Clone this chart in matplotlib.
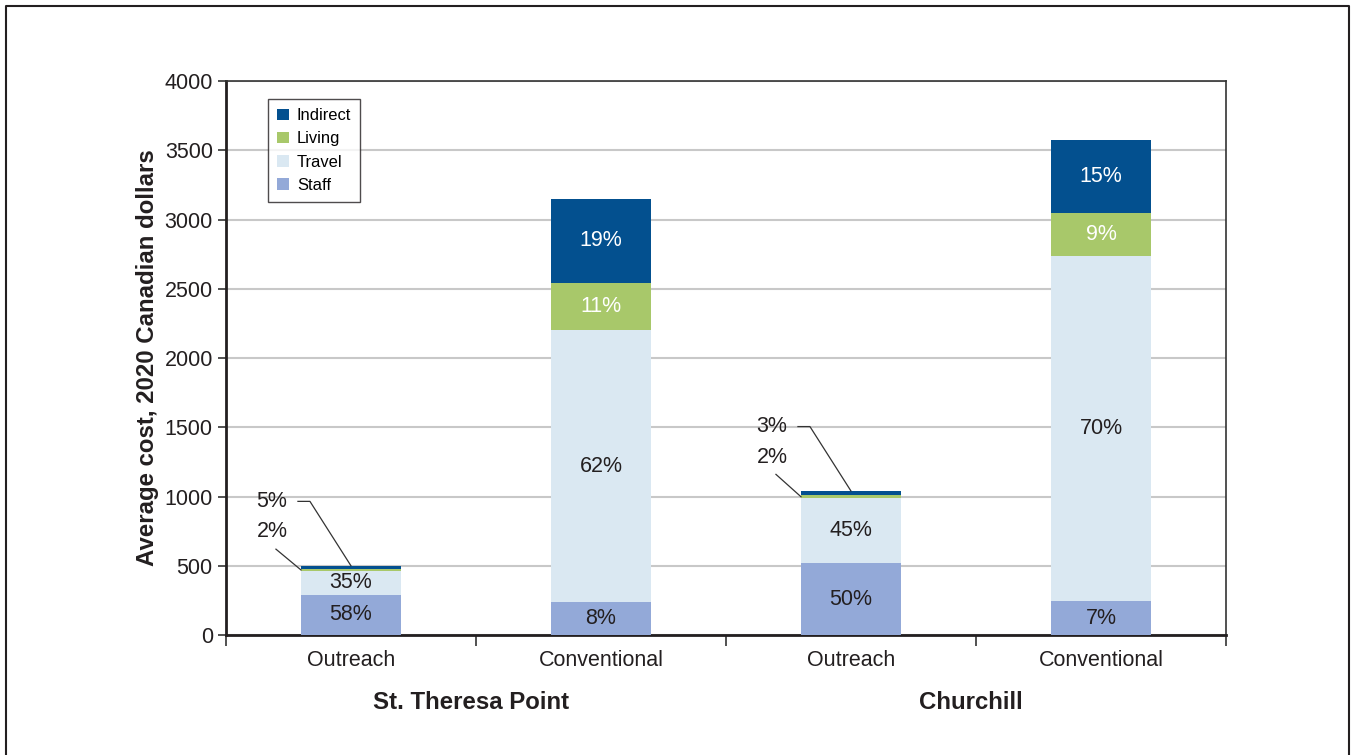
import matplotlib.pyplot as plt
from matplotlib.lines import Line2D
import numpy as np

plt.rcParams['font.family'] = ['Liberation Sans', 'DejaVu Sans']

# data (2020 CAD)
sites = ['St. Theresa Point', 'Churchill']
categories = ['Outreach', 'Conventional', 'Outreach', 'Conventional']
components = ['Staff', 'Travel', 'Living', 'Indirect']
staff = [290, 240, 520, 245]
travel = [175, 1960, 468, 2495]
living = [10, 345, 21, 310]
indirect = [25, 605, 31, 525]

colors = {'Staff': '#93a9d8', 'Travel': '#dae8f2', 'Living': '#a8c86a', 'Indirect': '#03508f'}
text_colors = {'Staff': '#231f20', 'Travel': '#231f20', 'Living': 'white', 'Indirect': 'white'}

fig = plt.figure(figsize=(13.53, 7.55), dpi=100)
ax = fig.add_axes([0.1670, 0.1589, 0.7391, 0.7338])

x = np.arange(len(categories))
series = {'Staff': staff, 'Travel': travel, 'Living': living, 'Indirect': indirect}
totals = np.sum([series[c] for c in components], axis=0)
bottom = np.zeros(len(categories))
bw = 0.4
for comp in components:
    vals = np.array(series[comp], dtype=float)
    ax.bar(x, vals, bw, bottom=bottom, color=colors[comp], label=comp, zorder=3)
    for i in range(len(x)):
        pct = vals[i] / totals[i] * 100
        if vals[i] > 100:   # thin slices get leader lines below
            ax.text(x[i], bottom[i] + vals[i] / 2, '%d%%' % round(pct), ha='center', va='center',
                    fontsize=15.5, color=text_colors[comp], zorder=4)
    bottom += vals

# leader-line labels for the thin slices on the outreach bars
for i in [0, 2]:
    top = totals[i]
    liv_mid = staff[i] + travel[i] + living[i] / 2
    p_ind = round(indirect[i] / top * 100)
    p_liv = round(living[i] / top * 100)
    y_ind = top + 465
    ax.text(x[i] - 0.316, y_ind, '%d%%' % p_ind, ha='center', va='center', fontsize=15.5, color='#231f20')
    ax.plot([x[i] - 0.212, x[i] - 0.164, x[i]], [y_ind, y_ind, top], color='#333333', lw=0.9, zorder=5)
    y_liv = top + 245
    ax.text(x[i] - 0.316, y_liv, '%d%%' % p_liv, ha='center', va='center', fontsize=15.5, color='#231f20')
    ax.plot([x[i] - 0.300, x[i] - bw / 2], [y_liv - 125, liv_mid], color='#333333', lw=0.9, zorder=5)

ax.set_xlim(-0.5, 3.5)
ax.set_ylim(0, 4000)
ax.set_yticks(np.arange(0, 4001, 500))
ax.yaxis.grid(True, color='#c8c8c8', lw=1.5, zorder=0)
ax.set_xticks(x)
ax.set_xticklabels(categories, fontsize=15.5, color='#231f20')
ax.tick_params(axis='x', length=0, pad=11)
ax.set_xticks(np.arange(-0.5, 3.6, 1), minor=True)
ax.tick_params(axis='x', which='minor', length=8, width=1.2, color='#333333')
ax.tick_params(axis='y', labelsize=15.5, labelcolor='#231f20', length=6, width=1.2, color='#333333')

for side in ['left', 'bottom']:
    ax.spines[side].set_linewidth(2)
    ax.spines[side].set_color('#231f20')
for side in ['top', 'right']:
    ax.spines[side].set_linewidth(1.2)
    ax.spines[side].set_color('#333333')

ax.set_ylabel('Average cost, 2020 Canadian dollars', fontsize=17.3, fontweight='bold',
              color='#231f20', labelpad=4)

# site labels under each pair of bars
for j, site in enumerate(sites):
    ax.text(x[2 * j] + 0.5 - 0.02, -0.122, site, transform=ax.get_xaxis_transform(),
            ha='center', va='center', fontsize=17.3, fontweight='bold', color='#231f20')

handles, labels = ax.get_legend_handles_labels()
leg = ax.legend(handles[::-1], labels[::-1], loc='upper left', bbox_to_anchor=(0.042, 0.9675),
                fontsize=11.9, frameon=True, fancybox=False, edgecolor='#231f20',
                handlelength=0.7, handleheight=0.7, handletextpad=0.5, borderpad=0.55,
                labelspacing=0.5, borderaxespad=0)
leg.get_frame().set_linewidth(1.0)

# outer frame, open at the bottom
fx0, fx1, fy1 = 6 / 1353, 1349 / 1353, 1 - 6 / 755
fig.add_artist(Line2D([fx0, fx0, fx1, fx1], [0, fy1, fy1, 0], color='#231f20', lw=1.5,
                      transform=fig.transFigure))

fig.savefig('out.png', dpi=100)
